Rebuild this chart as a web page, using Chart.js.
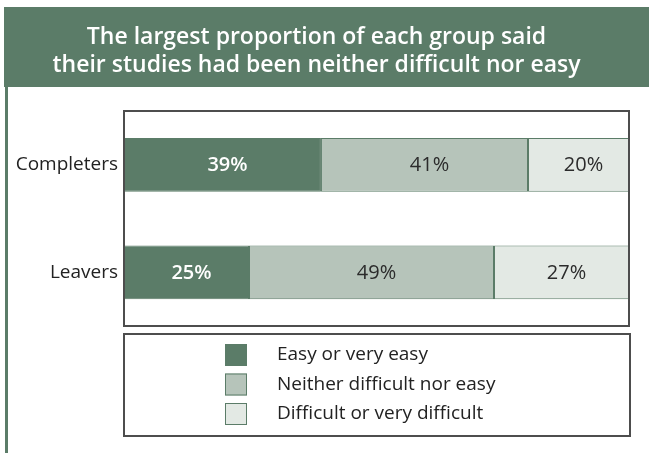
<!DOCTYPE html>
<html>
<head>
<meta charset="utf-8">
<script src="https://cdn.jsdelivr.net/npm/chart.js@4.4.1/dist/chart.umd.min.js"></script>
<style>
  html, body { margin: 0; padding: 0; background: #fff; }
  #wrap { width: 649px; height: 453px; position: relative; }
</style>
</head>
<body>
<div id="wrap"><canvas id="c" width="649" height="453"></canvas></div>
<script>
// data
const groups = ["Completers", "Leavers"]
const seriesNames = ["Easy or very easy", "Neither difficult nor easy", "Difficult or very difficult"]
const easy = [39, 25]
const neither = [41, 49]
const difficult = [20, 27]
const titleLines = ["The largest proportion of each group said", "their studies had been neither difficult nor easy"]

const dark = "#5b7c68"
const fills = [dark, "#b6c4ba", "#e3e9e4"]
const textCols = ["#ffffff", "#2b2b2b", "#2b2b2b"]
const raw = [easy, neither, difficult]

// every bar is stretched to the full width (Leavers adds to 101)
let totals = groups.map((g, i) => easy[i] + neither[i] + difficult[i])
let datasets = raw.map((vals, k) => ({
    label: seriesNames[k],
    data: vals.map((v, i) => v / totals[i] * 100),
    backgroundColor: fills[k],
    borderColor: dark,
    borderWidth: 1,
    borderSkipped: false,
    barPercentage: 0.5,
    categoryPercentage: 1
}))

const frame = {
    id: "frame",
    beforeDraw(chart) {
        let ctx = chart.ctx
        ctx.save()
        ctx.fillStyle = dark
        ctx.fillRect(4, 7, 645, 80)
        ctx.fillRect(5, 87, 3, 366)
        ctx.restore()
    },
    afterDatasetsDraw(chart) {
        let ctx = chart.ctx
        let a = chart.chartArea
        ctx.save()
        ctx.strokeStyle = "#4d4d4d"
        ctx.lineWidth = 2
        ctx.strokeRect(a.left, a.top, a.right - a.left, a.bottom - a.top)
        // value labels
        ctx.textAlign = "center"
        ctx.textBaseline = "middle"
        chart.data.datasets.forEach((ds, k) => {
            chart.getDatasetMeta(k).data.forEach((bar, i) => {
                ctx.font = (k == 0 ? "600 " : "") + "20px 'Open Sans'"
                ctx.fillStyle = textCols[k]
                ctx.fillText(raw[k][i] + "%", (bar.x + bar.base) / 2 + 5, bar.y + 1)
            })
        })
        ctx.restore()
    },
    afterDraw(chart) {
        let ctx = chart.ctx
        let a = chart.chartArea
        ctx.save()
        ctx.strokeStyle = "#4d4d4d"
        ctx.lineWidth = 2
        ctx.strokeRect(a.left, 334, a.right - a.left + 1, 102)
        ctx.font = "19px 'Open Sans'"
        ctx.textBaseline = "middle"
        chart.data.datasets.forEach((ds, k) => {
            let y = 344 + k * 29.5
            ctx.fillStyle = ds.backgroundColor
            ctx.fillRect(225, y, 22, 22)
            ctx.strokeStyle = dark
            ctx.lineWidth = 1
            ctx.strokeRect(225.5, y + 0.5, 21, 21)
            ctx.fillStyle = "#222"
            ctx.fillText(ds.label, 277, y + 11)
        })
        ctx.restore()
    }
}

new Chart(document.getElementById("c"), {
    type: "bar",
    data: { labels: groups, datasets: datasets },
    options: {
        responsive: false,
        animation: false,
        indexAxis: "y",
        layout: { padding: { left: 4, right: 20, top: 0, bottom: 127 } },
        scales: {
            x: { stacked: true, min: 0, max: 100, display: false },
            y: {
                stacked: true,
                grid: { display: false, drawTicks: false },
                border: { display: false },
                ticks: { color: "#222", padding: 6, font: { family: "'Open Sans'", size: 19 } },
                afterFit(scale) { scale.width = 120 }
            }
        },
        plugins: {
            legend: { display: false },
            tooltip: { enabled: false },
            title: {
                display: true,
                text: titleLines,
                color: "#ffffff",
                font: { family: "'Open Sans'", size: 23, weight: "600", lineHeight: 28 / 23 },
                padding: { top: 23, bottom: 32 }
            }
        }
    },
    plugins: [frame]
})
</script>
</body>
</html>
